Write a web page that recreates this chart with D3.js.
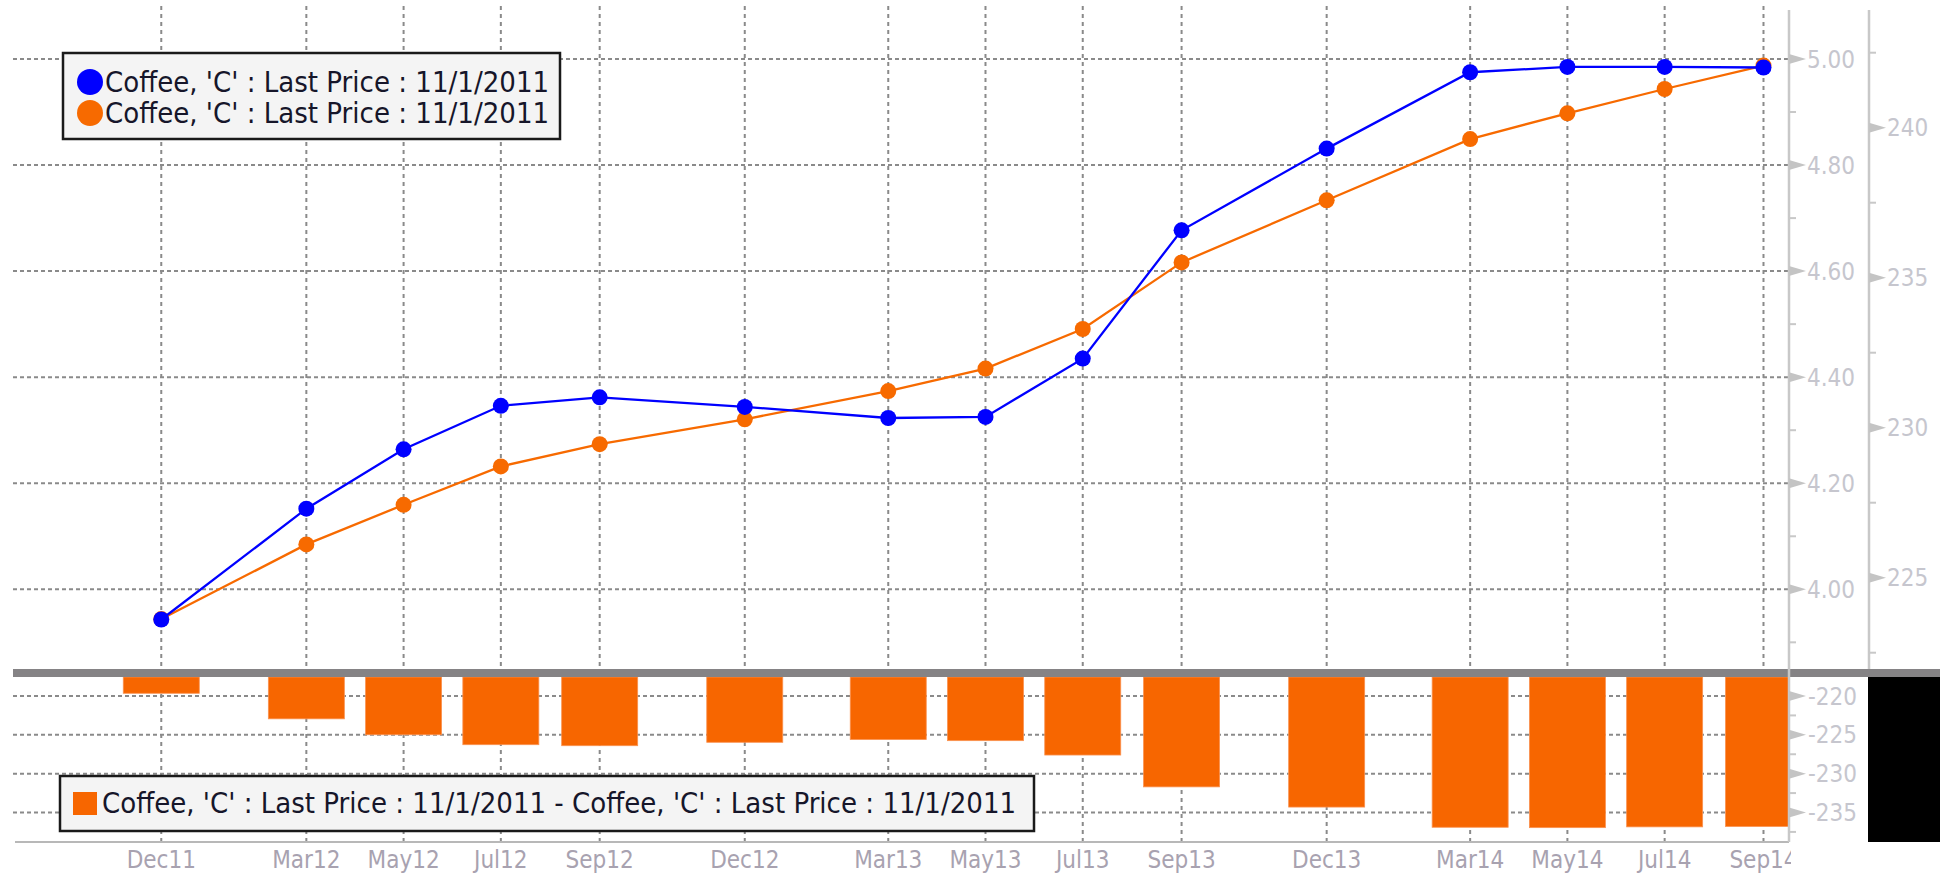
<!DOCTYPE html>
<html>
<head>
<meta charset="utf-8">
<script src="https://cdn.jsdelivr.net/npm/d3@7"></script>
<style>
  body { margin: 0; background: #fff; }
  text { font-family: "DejaVu Sans Condensed", "DejaVu Sans", sans-serif; font-stretch: condensed; }
</style>
</head>
<body>
<div id="chart"></div>
<script>
// contract months (tick labels) and the values
var months = ["Dec11", "Mar12", "May12", "Jul12", "Sep12", "Dec12", "Mar13", "May13",
              "Jul13", "Sep13", "Dec13", "Mar14", "May14", "Jul14", "Sep14"];
// blue series, left axis ($/lb)
var bluePrice = [3.943, 4.152, 4.264, 4.346, 4.362, 4.344, 4.323, 4.325,
                 4.435, 4.677, 4.831, 4.975, 4.985, 4.985, 4.984];
// orange series, right axis (c/lb)
var orangePrice = [223.62, 226.11, 227.43, 228.71, 229.45, 230.28, 231.22, 231.97,
                   233.29, 235.51, 237.58, 239.62, 240.48, 241.29, 242.07];
// difference, lower panel
var spread = [-219.65, -222.94, -224.99, -226.27, -226.4, -225.96, -225.6, -225.75,
              -227.6, -231.7, -234.3, -236.9, -236.95, -236.85, -236.8];

var blueTicks = [4.00, 4.20, 4.40, 4.60, 4.80, 5.00];
var orangeTicks = [225, 230, 235, 240];
var spreadTicks = [-220, -225, -230, -235];
var legendLabel = "Coffee, 'C' : Last Price : 11/1/2011";

var W = 1940, H = 875;
var plotLeft = 13, plotRight = 1789, axis2 = 1869;
var topY = 6, sepTop = 669, sepBottom = 677, bottomY = 842;

var parseMonth = d3.timeParse("%b%y");
var dates = months.map(parseMonth);

var svg = d3.select("#chart").append("svg")
    .attr("width", W).attr("height", H)
    .style("display", "block");

svg.append("rect").attr("width", W).attr("height", H).attr("fill", "#fff");

// scales
var x = d3.scaleTime()
    .domain([new Date(2011, 7, 30), new Date(2014, 8, 17)])
    .range([plotLeft, plotRight]);
var yBlue = d3.scaleLinear().domain([4, 5]).range([589.3, 59]);
var yOrange = d3.scaleLinear().domain([225, 240]).range([577.7, 127.7]);
var ySpread = d3.scaleLinear().domain([-220, -235]).range([696, 812.5]);

var gridColor = "#8a8a8a";

// bars must stop at the axis line
svg.append("clipPath").attr("id", "plotclip")
    .append("rect").attr("x", plotLeft).attr("y", 0)
    .attr("width", plotRight - plotLeft - 1).attr("height", H);

// vertical grid lines
svg.append("g").selectAll("line")
    .data(dates)
    .enter().append("line")
    .attr("x1", d => x(d)).attr("x2", d => x(d))
    .attr("y1", topY).attr("y2", bottomY)
    .attr("stroke", gridColor).attr("stroke-width", 2)
    .attr("stroke-dasharray", "4,4");

// horizontal grid lines (upper panel)
svg.append("g").selectAll("line")
    .data(blueTicks)
    .enter().append("line")
    .attr("x1", plotLeft).attr("x2", plotRight)
    .attr("y1", d => yBlue(d)).attr("y2", d => yBlue(d))
    .attr("stroke", gridColor).attr("stroke-width", 2)
    .attr("stroke-dasharray", "4,3");

// horizontal grid lines (lower panel)
svg.append("g").selectAll("line")
    .data(spreadTicks)
    .enter().append("line")
    .attr("x1", plotLeft).attr("x2", plotRight)
    .attr("y1", d => ySpread(d)).attr("y2", d => ySpread(d))
    .attr("stroke", gridColor).attr("stroke-width", 2)
    .attr("stroke-dasharray", "4,3");

// bars hanging from the panel top
var barTop = sepBottom;
svg.append("g").attr("clip-path", "url(#plotclip)")
    .selectAll("rect")
    .data(spread)
    .enter().append("rect")
    .attr("x", (d, i) => x(dates[i]) - 38)
    .attr("width", 76)
    .attr("y", barTop)
    .attr("height", d => ySpread(d) - barTop)
    .attr("fill", "#f76600")
    .attr("stroke", "#fa9250").attr("stroke-width", 0.8);

// separator between the panels
svg.append("rect")
    .attr("x", plotLeft).attr("y", sepTop)
    .attr("width", W - plotLeft).attr("height", sepBottom - sepTop)
    .attr("fill", "#858385");

// black block right of the lower panel
svg.append("rect")
    .attr("x", 1868).attr("y", sepBottom)
    .attr("width", W - 1868).attr("height", bottomY - sepBottom)
    .attr("fill", "#000");

// bottom axis line
svg.append("line")
    .attr("x1", 15).attr("x2", plotRight)
    .attr("y1", bottomY).attr("y2", bottomY)
    .attr("stroke", "#b8b8b8").attr("stroke-width", 2);

// lines + markers
function drawSeries(values, yScale, color) {
    var line = d3.line()
        .x((d, i) => x(dates[i]))
        .y(d => yScale(d));
    svg.append("path")
        .datum(values)
        .attr("d", line)
        .attr("fill", "none")
        .attr("stroke", color)
        .attr("stroke-width", 2.3);
    svg.append("g").selectAll("circle")
        .data(values)
        .enter().append("circle")
        .attr("cx", (d, i) => x(dates[i]))
        .attr("cy", d => yScale(d))
        .attr("r", 8)
        .attr("fill", color);
}
drawSeries(orangePrice, yOrange, "#f76a00");
drawSeries(bluePrice, yBlue, "#0000ff");

// right-hand axes
var axisColor = "#c8c8c8", labelColor = "#c6c6ce";

function arrow(ax, yy) {
    return "M" + ax + "," + (yy - 5) + "L" + (ax + 17) + "," + yy + "L" + ax + "," + (yy + 5) + "Z";
}

function drawAxis(ax, y0, y1, majors, minors, scale, fmt, labelX) {
    svg.append("line")
        .attr("x1", ax).attr("x2", ax).attr("y1", y0).attr("y2", y1)
        .attr("stroke", axisColor).attr("stroke-width", 2.5);
    svg.append("g").selectAll("line")
        .data(minors)
        .enter().append("line")
        .attr("x1", ax).attr("x2", ax + 7)
        .attr("y1", d => scale(d)).attr("y2", d => scale(d))
        .attr("stroke", axisColor).attr("stroke-width", 2);
    svg.append("g").selectAll("path")
        .data(majors)
        .enter().append("path")
        .attr("d", d => arrow(ax, scale(d)))
        .attr("fill", "#c4c4c4");
    svg.append("g").selectAll("text")
        .data(majors)
        .enter().append("text")
        .attr("x", labelX)
        .attr("y", d => scale(d))
        .attr("dy", "0.36em")
        .attr("font-size", "24px")
        .attr("fill", labelColor)
        .text(fmt);
}

drawAxis(plotRight, topY + 4, bottomY, blueTicks, [3.9, 4.1, 4.3, 4.5, 4.7, 4.9],
         yBlue, d3.format(".2f"), 1807);
drawAxis(axis2, topY + 4, sepTop, orangeTicks, [222.5, 227.5, 232.5, 237.5, 242.5],
         yOrange, d3.format("d"), 1887);
// lower axis ticks (the line itself is already drawn)
svg.append("g").selectAll("line")
    .data([-222.5, -227.5, -232.5, -237.5])
    .enter().append("line")
    .attr("x1", plotRight).attr("x2", plotRight + 7)
    .attr("y1", d => ySpread(d)).attr("y2", d => ySpread(d))
    .attr("stroke", axisColor).attr("stroke-width", 2);
svg.append("g").selectAll("path")
    .data(spreadTicks)
    .enter().append("path")
    .attr("d", d => arrow(plotRight, ySpread(d)))
    .attr("fill", "#c4c4c4");
svg.append("g").selectAll("text")
    .data(spreadTicks)
    .enter().append("text")
    .attr("x", 1808)
    .attr("y", d => ySpread(d))
    .attr("dy", "0.36em")
    .attr("font-size", "24px")
    .attr("fill", labelColor)
    .text(d => "-" + Math.abs(d));

// month labels, clipped at the axis
svg.append("clipPath").attr("id", "xclip")
    .append("rect").attr("x", 0).attr("y", bottomY).attr("width", plotRight + 2).attr("height", H - bottomY);
svg.append("g").attr("clip-path", "url(#xclip)")
    .selectAll("text")
    .data(months)
    .enter().append("text")
    .attr("x", (d, i) => x(dates[i]))
    .attr("y", 859)
    .attr("dy", "0.36em")
    .attr("text-anchor", "middle")
    .attr("font-size", "24px")
    .attr("fill", "#a8a2b0")
    .text(d => d);

// upper legend
var leg = svg.append("g");
leg.append("rect")
    .attr("x", 63).attr("y", 53).attr("width", 497).attr("height", 86)
    .attr("fill", "#f4f4f4").attr("stroke", "#1a1a1a").attr("stroke-width", 2.5);
[["#0000ff", 82], ["#f76a00", 113]].forEach(function(r) {
    leg.append("circle").attr("cx", 90).attr("cy", r[1]).attr("r", 13).attr("fill", r[0]);
    leg.append("text")
        .attr("x", 105).attr("y", r[1]).attr("dy", "0.36em")
        .attr("font-size", "29px").attr("fill", "#16162a")
        .text(legendLabel);
});

// lower legend
var leg2 = svg.append("g");
leg2.append("rect")
    .attr("x", 60).attr("y", 776).attr("width", 974).attr("height", 55)
    .attr("fill", "#f4f4f4").attr("stroke", "#1a1a1a").attr("stroke-width", 2.5);
leg2.append("rect")
    .attr("x", 73).attr("y", 792).attr("width", 24).attr("height", 23)
    .attr("fill", "#f76600");
leg2.append("text")
    .attr("x", 102).attr("y", 803).attr("dy", "0.36em")
    .attr("font-size", "29px").attr("fill", "#16162a")
    .text(legendLabel + " - " + legendLabel);
</script>
</body>
</html>
